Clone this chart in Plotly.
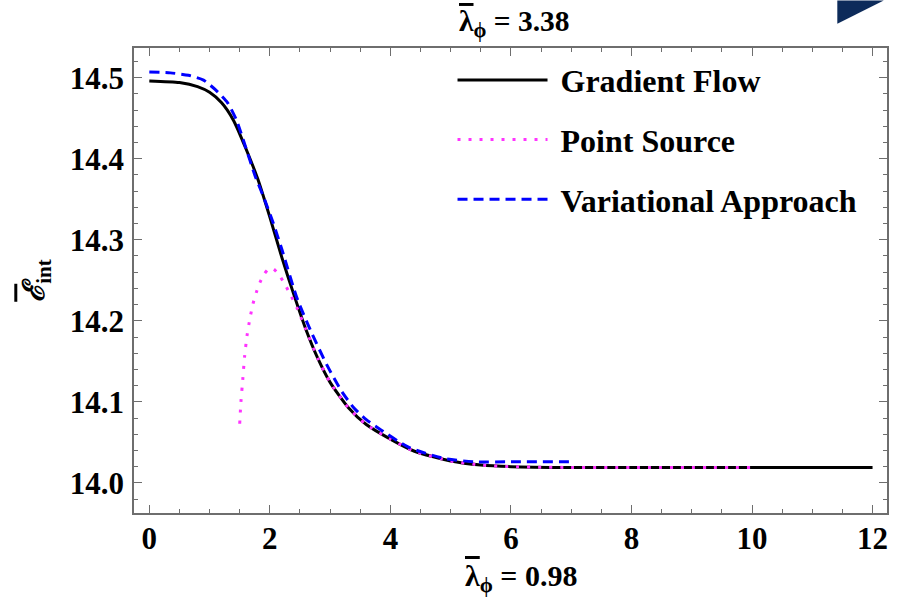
import plotly.graph_objects as go

# ---- data ----
gf_x = [0, 0.5, 0.8, 1.0, 1.2, 1.4, 1.6, 1.8, 2.0, 2.2, 2.4, 2.6, 2.8, 3.0, 3.3, 3.6,
        4.0, 4.4, 5.0, 5.5, 6.0, 7.0, 8.0, 10.0, 12.0]
gf_y = [14.496, 14.494, 14.489, 14.482, 14.469, 14.447, 14.413, 14.375, 14.328, 14.278,
        14.232, 14.189, 14.153, 14.124, 14.093, 14.072, 14.054, 14.039, 14.027, 14.022,
        14.020, 14.019, 14.019, 14.019, 14.019]

ps_x = [1.50, 1.52, 1.55, 1.58, 1.62, 1.67, 1.72, 1.78, 1.84, 1.91, 1.98, 2.06, 2.15,
        2.25, 2.35, 2.45, 2.6, 2.8, 3.0, 3.3, 3.6, 4.0, 4.4, 5.0, 5.5, 6.0, 7.0, 8.0, 10.0]
ps_y = [14.073, 14.100, 14.127, 14.155, 14.181, 14.203, 14.221, 14.236, 14.248, 14.258,
        14.264, 14.264, 14.257, 14.245, 14.231, 14.216, 14.189, 14.153, 14.124, 14.093,
        14.072, 14.054, 14.039, 14.027, 14.022, 14.020, 14.019, 14.019, 14.019]

va_x = [0, 0.35, 0.65, 0.9, 1.1, 1.3, 1.45, 1.6, 1.75, 1.9, 2.05, 2.2, 2.45, 2.7, 2.95,
        3.2, 3.4, 3.6, 3.85, 4.3, 4.9, 5.4, 6.0, 7.0]
va_y = [14.507, 14.506, 14.503, 14.497, 14.485, 14.469, 14.447, 14.414, 14.380, 14.352,
        14.322, 14.288, 14.228, 14.184, 14.145, 14.112, 14.092, 14.078, 14.065, 14.044,
        14.030, 14.026, 14.026, 14.026]

series_names = ["Gradient Flow", "Point Source", "Variational Approach"]
x_tickvals = [0, 2, 4, 6, 8, 10, 12]
y_tickvals = [14.0, 14.1, 14.2, 14.3, 14.4, 14.5]
y_ticktext = ["14.0", "14.1", "14.2", "14.3", "14.4", "14.5"]
top_label = "3.38"
bottom_label = "0.98"

FONT = "Liberation Serif"
OVL = '<span style="text-decoration:overline">{}</span>'

fig = go.Figure()
fig.add_trace(go.Scatter(x=gf_x, y=gf_y, mode="lines", name="\u00a0" + series_names[0],
                         legendgroup="a", line=dict(color="black", width=3,
                                                    shape="spline", smoothing=0.6)))
fig.add_trace(go.Scatter(x=ps_x, y=ps_y, mode="lines", name="\u00a0" + series_names[1],
                         legendgroup="b", line=dict(color="#ff33ff", width=3, dash="3px,8px",
                                                    shape="spline", smoothing=0.6)))
fig.add_trace(go.Scatter(x=va_x, y=va_y, mode="lines", name="\u00a0" + series_names[2],
                         legendgroup="c", line=dict(color="#0000ff", width=3, dash="10px,6px",
                                                    shape="spline", smoothing=0.6)))

axis_common = dict(
    showline=True, linecolor="#6e6e6e", linewidth=1.5, mirror="ticks",
    ticks="inside", tickcolor="#6e6e6e", tickwidth=1.2, ticklen=8,
    showgrid=False, zeroline=False,
    tickfont=dict(family=FONT, size=31, color="black", weight="bold"),
)

fig.update_xaxes(
    range=[-0.254, 12.24], tickvals=x_tickvals, ticklabelstandoff=-3,
    minor=dict(dtick=0.5, tick0=0, ticks="inside", ticklen=4, tickcolor="#6e6e6e", tickwidth=1.2),
    **axis_common)
fig.update_yaxes(
    range=[13.9628, 14.5367], tickvals=y_tickvals, ticktext=y_ticktext, ticklabelstandoff=2,
    minor=dict(dtick=0.02, tick0=14.0, ticks="inside", ticklen=4, tickcolor="#6e6e6e", tickwidth=1.2),
    title=dict(text="<b>" + OVL.format("<i>ℰ</i>") + "<sub>int</sub></b>",
               font=dict(family=FONT, size=30, color="black"), standoff=16),
    **axis_common)

lam = "<b>" + OVL.format("λ") + "<sub>ϕ</sub> = {}</b>"
fig.update_layout(
    width=909, height=603,
    margin=dict(l=134, r=22, t=47.5, b=89.5),
    paper_bgcolor="white", plot_bgcolor="white",
    showlegend=True,
    legend=dict(x=0.423, xanchor="left", y=0.99, yanchor="top",
                bgcolor="rgba(0,0,0,0)", borderwidth=0,
                font=dict(family=FONT, size=32, color="black", weight="bold"),
                itemwidth=90, tracegroupgap=15, traceorder="grouped"),
    annotations=[
        dict(text=lam.format(top_label), xref="paper", yref="paper",
             x=0.505, y=1.0, xanchor="center", yanchor="bottom", yshift=4, showarrow=False,
             font=dict(family=FONT, size=29.5, color="black")),
        dict(text=lam.format(bottom_label), xref="paper", yref="paper",
             x=0.5135, y=0.0, xanchor="center", yanchor="top", yshift=-44, showarrow=False,
             font=dict(family=FONT, size=30, color="black")),
    ],
    shapes=[dict(type="path", xref="paper", yref="paper",
                 path="M 0.934 1.102 L 0.9957 1.102 L 0.934 1.052 Z",
                 fillcolor="#0d2b5a", line=dict(width=0))],
)

fig.write_html("out.html", config={"displayModeBar": False},
               post_script="document.body.style.margin='0';document.body.style.overflow='hidden';")
